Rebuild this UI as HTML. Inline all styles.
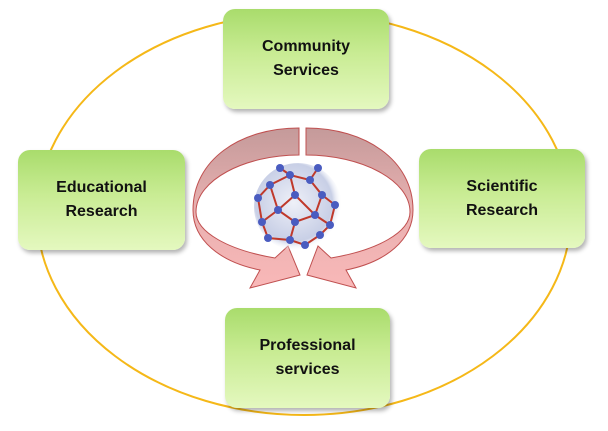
<!DOCTYPE html>
<html><head><style>
body{margin:0;background:#fff;}
.b{position:absolute;border-radius:12px;background:linear-gradient(#a9dc6c 0%,#c9ec94 45%,#e4f8bf 100%);box-shadow:2px 3px 4px rgba(0,0,0,.3);display:flex;align-items:center;justify-content:center;text-align:center;font:bold 16px/24px "Liberation Sans",sans-serif;color:#111;}
</style></head><body>
<div style="position:relative;width:608px;height:431px;overflow:hidden">
<svg width="608" height="431" style="position:absolute;left:0;top:0">
<ellipse cx="304" cy="214" rx="267" ry="201" fill="none" stroke="#f5b818" stroke-width="2"/>
<defs>
<linearGradient id="ar" x1="0" y1="0" x2="0" y2="1"><stop offset="0" stop-color="#c49a9a"/><stop offset=".5" stop-color="#e8b0b0"/><stop offset="1" stop-color="#f9b8b8"/></linearGradient>
<radialGradient id="ball" cx=".45" cy=".45" r=".55"><stop offset="0" stop-color="#eef0f8"/><stop offset=".8" stop-color="#c8cfe6"/><stop offset="1" stop-color="#fff" stop-opacity="0"/></radialGradient>
</defs>
<path d="M299,128 C240,128 193,160 193,210 C193,240 220,262 260,270 L250,288 L300,275 L288,246 L275,258 C228,250 196,232 196,212 C196,180 245,155 299,155 Z" fill="url(#ar)" stroke="#c05050" stroke-width="1"/>
<path d="M306,128 C365,128 413,160 413,210 C413,240 386,262 346,270 L356,288 L307,275 L318,246 L331,258 C378,250 410,232 410,212 C410,180 361,155 306,155 Z" fill="url(#ar)" stroke="#c05050" stroke-width="1"/>
<circle cx="298" cy="207" r="44" fill="url(#ball)"/>
<g stroke="#c0392b" stroke-width="2" fill="none">
<path d="M270,185 L290,175 L310,180 L322,195 L315,215 L295,222 L278,210 Z"/>
<path d="M290,175 L295,195 L315,215 M295,195 L278,210 M322,195 L335,205 L330,225 L315,215 M295,222 L290,240 L305,245 L320,235 L330,225 M278,210 L262,222 L268,238 L290,240 M270,185 L258,198 L262,222 M310,180 L318,168 M290,175 L280,168"/>
</g>
<g fill="#4a5cc0">
<circle cx="270" cy="185" r="4"/><circle cx="290" cy="175" r="4"/><circle cx="310" cy="180" r="4"/><circle cx="322" cy="195" r="4"/><circle cx="315" cy="215" r="4"/><circle cx="295" cy="222" r="4"/><circle cx="278" cy="210" r="4"/><circle cx="295" cy="195" r="4"/><circle cx="335" cy="205" r="4"/><circle cx="330" cy="225" r="4"/><circle cx="290" cy="240" r="4"/><circle cx="305" cy="245" r="4"/><circle cx="320" cy="235" r="4"/><circle cx="262" cy="222" r="4"/><circle cx="268" cy="238" r="4"/><circle cx="258" cy="198" r="4"/><circle cx="318" cy="168" r="4"/><circle cx="280" cy="168" r="4"/>
</g>
</svg>
<div class="b" style="left:223px;top:9px;width:166px;height:100px">Community<br>Services</div>
<div class="b" style="left:18px;top:150px;width:167px;height:100px">Educational<br>Research</div>
<div class="b" style="left:419px;top:149px;width:166px;height:99px">Scientific<br>Research</div>
<div class="b" style="left:225px;top:308px;width:165px;height:100px">Professional<br>services</div>
</div>
</body></html>
